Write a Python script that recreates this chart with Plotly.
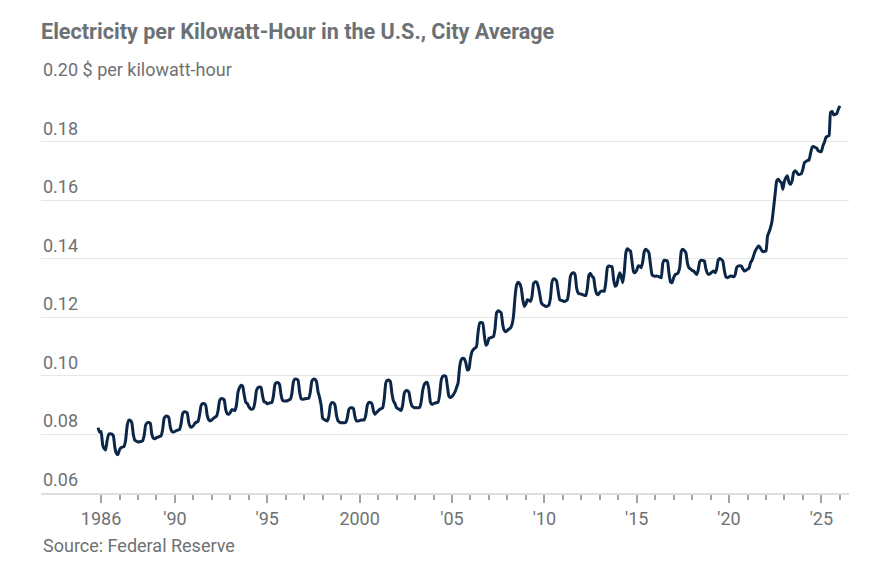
import pandas as pd
import plotly.graph_objects as go

# Monthly average price, $ per kWh (U.S. city average), Nov 1985 - Jan 2026
start_month = "1985-11-01"

price_1985_1994 = [
    .0823, .0808,
    .0810, .0765, .0752, .0747, .0780, .0800, .0802, .0801, .0795, .0755, .0735, .0731,
    .0748, .0755, .0757, .0759, .0780, .0830, .0848, .0848, .0840, .0800, .0780, .0777,
    .0774, .0775, .0776, .0778, .0795, .0832, .0840, .0841, .0838, .0800, .0787, .0785,
    .0789, .0791, .0793, .0795, .0815, .0855, .0862, .0862, .0858, .0825, .0810, .0808,
    .0810, .0813, .0815, .0817, .0835, .0870, .0877, .0877, .0873, .0840, .0826, .0825,
    .0830, .0838, .0842, .0844, .0865, .0898, .0905, .0905, .0900, .0865, .0850, .0846,
    .0850, .0855, .0859, .0862, .0880, .0915, .0922, .0922, .0918, .0885, .0870, .0869,
    .0875, .0885, .0883, .0882, .0900, .0945, .0960, .0968, .0965, .0935, .0910, .0906,
    .0895, .0888, .0886, .0889, .0910, .0950, .0960, .0962, .0960, .0930, .0911, .0910,
]
price_1995_2004 = [
    .0905, .0907, .0908, .0909, .0930, .0970, .0977, .0977, .0970, .0935, .0916, .0914,
    .0914, .0915, .0918, .0920, .0940, .0980, .0989, .0989, .0985, .0945, .0922, .0920,
    .0921, .0922, .0923, .0924, .0945, .0982, .0989, .0988, .0980, .0945, .0926, .0900,
    .0855, .0851, .0848, .0846, .0860, .0900, .0909, .0908, .0900, .0865, .0846, .0842,
    .0840, .0840, .0840, .0841, .0855, .0885, .0891, .0891, .0888, .0860, .0846, .0846,
    .0847, .0849, .0849, .0850, .0865, .0900, .0909, .0909, .0905, .0880, .0869, .0875,
    .0880, .0886, .0888, .0891, .0920, .0975, .0985, .0985, .0980, .0940, .0914, .0905,
    .0891, .0888, .0885, .0882, .0900, .0940, .0949, .0949, .0945, .0915, .0897, .0893,
    .0891, .0891, .0891, .0892, .0910, .0950, .0970, .0977, .0977, .0955, .0910, .0903,
    .0905, .0907, .0909, .0910, .0935, .0985, .0998, .1000, .0998, .0965, .0930, .0926,
]
price_2005_2014 = [
    .0930, .0937, .0945, .0960, .0975, .1030, .1054, .1060, .1058, .1045, .1020, .1022,
    .1060, .1083, .1090, .1095, .1100, .1150, .1180, .1182, .1180, .1140, .1105, .1110,
    .1128, .1130, .1132, .1134, .1160, .1215, .1222, .1220, .1215, .1175, .1155, .1151,
    .1155, .1160, .1163, .1175, .1203, .1270, .1310, .1320, .1315, .1300, .1260, .1237,
    .1245, .1260, .1258, .1254, .1270, .1315, .1321, .1320, .1306, .1280, .1250, .1243,
    .1240, .1237, .1238, .1242, .1265, .1320, .1331, .1330, .1323, .1290, .1260, .1258,
    .1256, .1254, .1256, .1260, .1290, .1340, .1350, .1352, .1346, .1300, .1283, .1280,
    .1279, .1277, .1275, .1274, .1300, .1345, .1350, .1340, .1335, .1300, .1280, .1277,
    .1285, .1289, .1290, .1289, .1320, .1370, .1375, .1374, .1373, .1330, .1306, .1310,
    .1335, .1352, .1340, .1318, .1355, .1420, .1434, .1430, .1426, .1390, .1355, .1352,
]
price_2015_2026 = [
    .1360, .1375, .1375, .1369, .1390, .1425, .1432, .1428, .1420, .1380, .1345, .1341,
    .1340, .1341, .1340, .1337, .1335, .1385, .1395, .1394, .1392, .1350, .1320, .1318,
    .1335, .1346, .1348, .1352, .1370, .1425, .1432, .1428, .1420, .1385, .1369, .1365,
    .1360, .1358, .1352, .1346, .1360, .1390, .1395, .1394, .1392, .1365, .1350, .1346,
    .1350, .1355, .1358, .1352, .1365, .1395, .1401, .1398, .1392, .1360, .1338, .1335,
    .1338, .1341, .1340, .1338, .1345, .1370, .1375, .1376, .1375, .1365, .1358, .1360,
    .1364, .1368, .1386, .1395, .1410, .1426, .1435, .1443, .1440, .1430, .1424, .1425,
    .1426, .1478, .1490, .1506, .1529, .1574, .1620, .1666, .1671, .1665, .1660, .1637,
    .1665, .1677, .1683, .1660, .1654, .1665, .1694, .1700, .1695, .1688, .1688, .1690,
    .1706, .1728, .1732, .1736, .1736, .1760, .1780, .1783, .1780, .1778, .1768, .1766,
    .1766, .1786, .1797, .1814, .1818, .1820, .1900, .1903, .1891, .1893, .1895, .1910,
    .1922,
]

y_ticks = [0.06, 0.08, 0.10, 0.12, 0.14, 0.16, 0.18, 0.20]
y_labels = ["0.06", "0.08", "0.10", "0.12", "0.14", "0.16", "0.18", "0.20 $ per kilowatt-hour"]
x_major_years = [1986, 1990, 1995, 2000, 2005, 2010, 2015, 2020, 2025]
x_major_labels = ["1986", "'90", "'95", "2000", "'05", "'10", "'15", "'20", "'25"]
x_minor_years = [y for y in range(1987, 2027) if y not in x_major_years]

price = price_1985_1994 + price_1995_2004 + price_2005_2014 + price_2015_2026
dates = pd.date_range(start_month, periods=len(price), freq="MS")

TXT = "#6f7173"
FONT = "Roboto, 'Liberation Sans', sans-serif"
OFF = 8  # page body margin in the browser

fig = go.Figure()
fig.add_trace(go.Scatter(
    x=dates, y=price, mode="lines",
    line=dict(color="#0b2647", width=3, shape="spline", smoothing=0.4),
    hoverinfo="skip", showlegend=False,
))

fig.update_layout(
    width=892, height=568,
    margin=dict(l=41 - OFF, r=43 + OFF, t=83 - OFF, b=75 + OFF),
    paper_bgcolor="white", plot_bgcolor="white",
    font=dict(family=FONT, color=TXT, size=18),
    title=dict(
        text="<b>Electricity per Kilowatt-Hour in the U.S., City Average</b>",
        font=dict(family=FONT, size=21.6, color="#6b7175"),
        x=(41 - OFF) / 892, xanchor="left", xref="container",
        y=1 - (31 - OFF) / 568, yanchor="middle", yref="container",
    ),
)

fig.update_xaxes(
    type="date",
    range=["1982-10-01", "2026-07-01"],
    tickmode="array",
    tickvals=[f"{y}-01-01" for y in x_major_years],
    ticktext=x_major_labels,
    ticks="outside", ticklen=8, tickwidth=1.5, tickcolor="#a3a3a3",
    tickfont=dict(size=18, color=TXT),
    minor=dict(tickmode="array", tickvals=[f"{y}-01-01" for y in x_minor_years],
               ticks="outside", ticklen=5, tickwidth=1.5, tickcolor="#a3a3a3", showgrid=False),
    showgrid=False, zeroline=False,
    showline=True, linecolor="#dedede", linewidth=2,
)

fig.update_yaxes(
    range=[0.06, 0.2],
    tickvals=y_ticks,
    showticklabels=False,
    showgrid=True, gridcolor="#e6e6e6", gridwidth=1,
    zeroline=False, showline=False, ticks="",
)

for v, lab in zip(y_ticks, y_labels):
    fig.add_annotation(
        x=0, xref="paper", y=v, yref="y",
        text=lab, showarrow=False,
        xanchor="left", yanchor="bottom", yshift=1,
        font=dict(size=18, color=TXT, family=FONT),
    )

fig.add_annotation(
    x=0, xref="paper", y=0, yref="paper",
    text="Source: Federal Reserve", showarrow=False,
    xanchor="left", yanchor="middle", yshift=-52,
    font=dict(size=18, color=TXT, family=FONT),
)

fig.write_html("out.html")
